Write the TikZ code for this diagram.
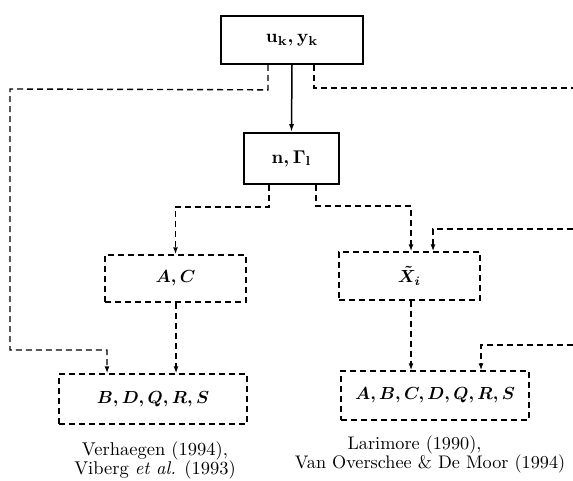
\documentclass[tikz,border=0pt]{standalone}
\usepackage{amsmath,bm}
\usetikzlibrary{arrows.meta,calc}
\newcommand{\bigtxt}[2]{\scalebox{#1}{\fontsize{10}{10.4}\selectfont\begin{tabular}{@{}c@{}}#2\end{tabular}}}
\newcommand{\boxmath}[2]{\scalebox{#1}{\boldmath$#2$}}
\begin{document}
\begin{tikzpicture}[x=1pt,y=-1pt,
  solidbox/.style={draw,line width=1.7pt,inner sep=0pt},
  dashbox/.style={draw,line width=1.4pt,dash pattern=on 6pt off 4pt,inner sep=0pt},
  sarrow/.style={line width=1.5pt,-{Latex[length=8pt,width=5pt]}},
  darrow/.style={line width=1.4pt,dash pattern=on 6pt off 4pt,-{Latex[length=7pt,width=5pt]}},
  dline/.style={line width=1.4pt,dash pattern=on 6pt off 4pt},
  ref/.style={align=center,inner sep=0pt}]
\useasboundingbox[fill=white] (0,0) rectangle (573,480);

\node[solidbox,minimum width=142pt,minimum height=48pt] (uy) at (292,40) {\boxmath{1.85}{\mathbf{u}_{\mathbf{k}},\mathbf{y}_{\mathbf{k}}}};
\node[solidbox,minimum width=95pt,minimum height=51pt] (n) at (291.5,158.5) {\boxmath{1.85}{\mathbf{n},\mathbf{\Gamma}_{\mathbf{l}}}};
\node[dashbox,minimum width=141pt,minimum height=47pt] (ac) at (175.5,278.5) {\boxmath{1.75}{A,C}};
\node[dashbox,minimum width=141pt,minimum height=48pt] (xi) at (409.5,276) {\boxmath{1.75}{\tilde{X}_i}};
\node[dashbox,minimum width=188pt,minimum height=50pt] (bd) at (153,399) {\boxmath{1.75}{B,D,Q,R,S}};
\node[dashbox,minimum width=188pt,minimum height=49pt] (ab) at (435,395.5) {\boxmath{1.75}{A,B,C,D,Q,R,S}};

\node[ref] (t1) at (155,461) {\bigtxt{1.85}{Verhaegen (1994),\\Viberg \textit{et al.} (1993)}};
\node[ref] (t2) at (430,455) {\bigtxt{1.82}{Larimore (1990),\hspace*{17pt}\\Van Overschee \& De Moor (1994)}};

\coordinate (e1) at (573,88);
\coordinate (e2) at (573,229);
\coordinate (e3) at (573,345);

% solid
\draw[sarrow] (uy.south) -- (n.north);
% left feed
\draw[darrow] ([xshift=-24pt]uy.south) -- ++(0,25) -- (10,89) -- (10,350) -| ([xshift=-46pt]bd.north);
% right feed
\draw[dline] ([xshift=22pt]uy.south) |- (e1);
\draw[darrow] (e2) -| ([xshift=23.5pt]xi.north);
\draw[darrow] (e3) -| ([xshift=46pt]ab.north);
% from n
\draw[darrow] ([xshift=-22.5pt]n.south) |- (175.5,207) -- (ac.north);
\draw[darrow] ([xshift=24.5pt]n.south) |- (411,206) -- ([xshift=1.5pt]xi.north);
% down
\draw[darrow] ([xshift=0.5pt]ac.south) -- ([xshift=0.5pt]ac.south |- bd.north);
\draw[darrow] ([xshift=1.5pt]xi.south) -- ([xshift=1.5pt]xi.south |- ab.north);
\end{tikzpicture}
\end{document}
